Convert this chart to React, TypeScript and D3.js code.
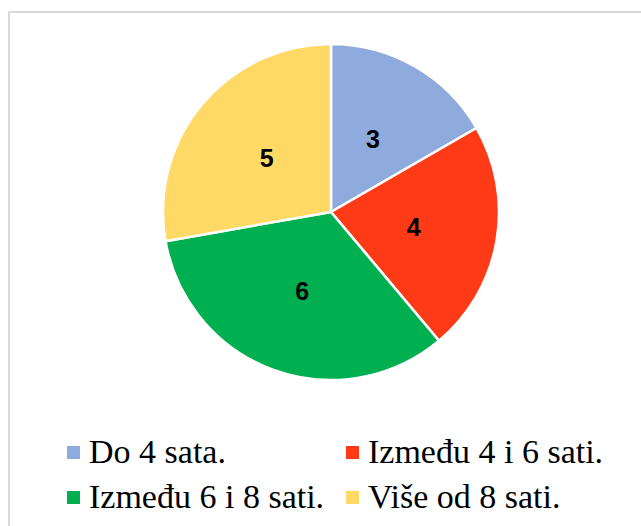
import React from 'react';
import { pie, arc, scaleOrdinal } from 'd3';

const categories = ['Do 4 sata.', 'Između 4 i 6 sati.', 'Između 6 i 8 sati.', 'Više od 8 sati.'];
const values = [3, 4, 6, 5];
const colors = ['#8FAADC', '#FF3B17', '#00B050', '#FFD966'];

const W = 641;
const H = 526;

const App = () => {
  const cx = 331;
  const cy = 212;
  const r = 168;

  const color = scaleOrdinal<string, string>().domain(categories).range(colors);
  const slices = pie<number>().sort(null)(values);
  const sliceArc = arc<any>().innerRadius(0).outerRadius(r);
  const labelArc = arc<any>().innerRadius(r / 2).outerRadius(r / 2);

  // legend: two columns, two rows
  const legendCols = [67, 346];
  const legendRows = [463, 508];

  return (
    <svg width={W} height={H} style={{ position: 'absolute', left: 0, top: 0 }}>
      <rect x={0} y={0} width={W} height={H} fill="#fff" />
      <rect x={9} y={12} width={W + 10} height={H + 10} fill="#fff" stroke="#d9d9d9" strokeWidth={2} />
      <g transform={`translate(${cx},${cy})`}>
        {slices.map((s, i) => (
          <path key={i} d={sliceArc(s) as string} fill={color(categories[i])} stroke="#fff" strokeWidth={2.5} strokeLinejoin="round" />
        ))}
        {slices.map((s, i) => {
          const [x, y] = labelArc.centroid(s);
          return (
            <text key={i} x={x} y={y} dy="0.36em" textAnchor="middle"
              fontFamily="'Liberation Sans', Arial, sans-serif" fontWeight="bold" fontSize={25} fill="#000">
              {values[i]}
            </text>
          );
        })}
      </g>
      {categories.map((c, i) => {
        const x = legendCols[i % 2];
        const y = legendRows[Math.floor(i / 2)];
        return (
          <g key={c}>
            <rect x={x} y={y - 17} width={13} height={13} fill={color(c)} />
            <text x={x + 22} y={y} fontFamily="'Liberation Serif', 'Times New Roman', serif" fontSize={34} fill="#000">
              {c}
            </text>
          </g>
        );
      })}
    </svg>
  );
};

export default App;
